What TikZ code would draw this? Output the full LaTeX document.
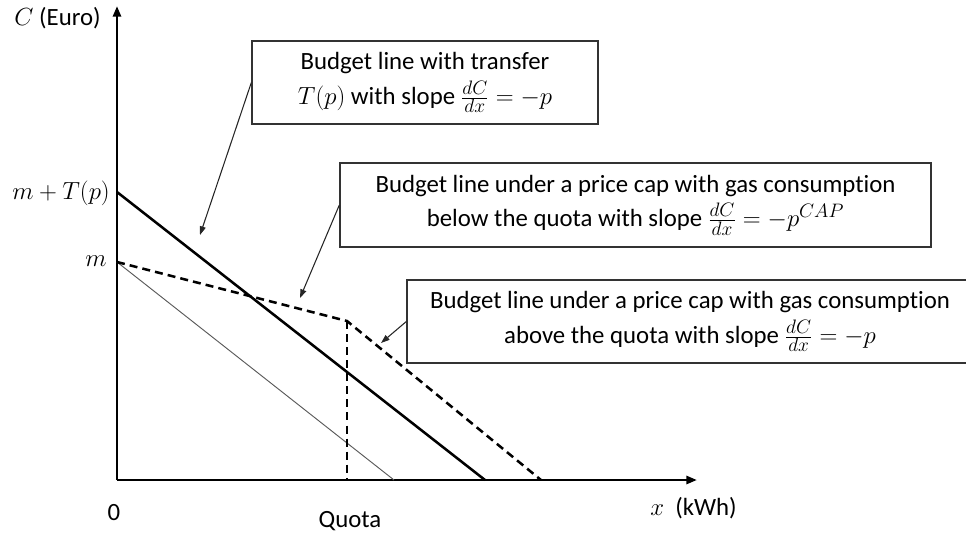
\RequirePackage{fix-cm}
\documentclass[tikz,border=0pt]{standalone}
\usepackage{fontspec}
\setmainfont[Ligatures={NoCommon}]{Carlito}
\DeclareMathSizes{18.6}{18.6}{14.6}{12}
\usetikzlibrary{arrows.meta}
\begin{document}
\begin{tikzpicture}[x=0.75pt,y=-0.75pt,
  every node/.style={font=\fontsize{18.6}{26}\selectfont, inner sep=0pt},
  axisline/.style={line width=2.2pt, -{Triangle[length=8pt,width=6pt]}},
  budget/.style={line width=1.9pt},
  capline/.style={line width=1.9pt, dash pattern=on 6pt off 3.8pt},
  thinline/.style={line width=0.7pt, black!65},
  box/.style={draw=black!80, line width=1pt, align=center, fill=white},
  pointer/.style={line width=0.8pt, black!85, -{Triangle[length=6.5pt,width=4.5pt]}}]
\useasboundingbox (0,0) rectangle (966,533);
\clip (0,0) rectangle (966,533);
% axes
\coordinate (O) at (117,480);
\coordinate (ytip) at (117,6);
\coordinate (xtip) at (697,480);
\draw[axisline] (O) -- (ytip);
\draw[axisline] (O) -- (xtip);
% budget lines
\coordinate (A) at (117,192);
\coordinate (B) at (485,480);
\coordinate (M) at (117,262);
\coordinate (Mt) at (394,480);
\coordinate (K) at (347,321);
\coordinate (E) at (541,480);
\draw[budget] (A) -- (B);
\draw[thinline] (M) -- (Mt);
\draw[capline] (M) -- (K) -- (E);
\draw[capline] (K) -- (K |- O);
% boxes
\node[box, minimum width=259.5pt, minimum height=62.25pt] (b1) at (425,82.5)
  {Budget line with transfer\\ $T(p)$ with slope $\frac{dC}{dx}=-p$};
\node[box, minimum width=443.25pt, minimum height=63pt] (b2) at (635.5,205)
  {Budget line under a price cap with gas consumption\\ below the quota with slope $\frac{dC}{dx}=-p^{CAP}$};
\node[box, minimum width=424.5pt, minimum height=62.25pt] (b3) at (690,321.5)
  {Budget line under a price cap with gas consumption\\ above the quota with slope $\frac{dC}{dx}=-p$};
% pointers
\coordinate (t1) at (200,235);
\coordinate (t2) at (300,298);
\coordinate (t3) at (381,343);
\draw[pointer] (b1.west) -- (t1);
\draw[pointer] (b2.west) -- (t2);
\draw[pointer] (b3.west) -- (t3);
% labels
\node[anchor=east] (lc) at (101,18) {$C$ (Euro)};
\node[anchor=east] (lmt) at (110,193) {$m+T(p)$};
\node[anchor=east] (lm) at (107,261) {$m$};
\node (l0) at (114,513) {0};
\node (lq) at (350,521) {Quota};
\node[anchor=west] (lx) at (650,508) {$x$\ \ (kWh)};
\end{tikzpicture}
\end{document}
